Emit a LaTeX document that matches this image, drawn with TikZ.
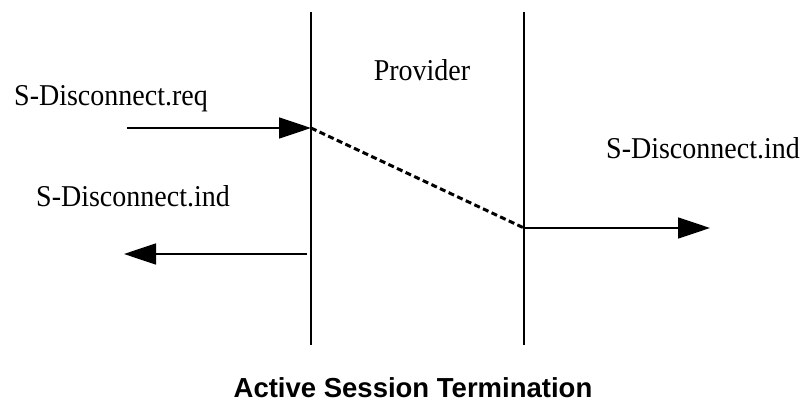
\documentclass[tikz,border=0pt]{standalone}
\usepackage{fontspec}
\setmainfont{Liberation Serif}
\setsansfont{Liberation Sans}
\usetikzlibrary{arrows.meta}
\newcommand{\tallt}[1]{\scalebox{1}[1.08]{#1}}
\begin{document}
\begin{tikzpicture}[x=1pt,y=-1pt,
  lbl/.style={font=\fontsize{28}{30}\selectfont, inner sep=0pt},
  msg/.style={line width=1.8pt, -{Triangle[length=32pt,width=21pt]}},
  life/.style={line width=1.3pt}]
\useasboundingbox[fill=white] (0,0) rectangle (807,406);
\coordinate (t1) at (311,12);
\coordinate (b1) at (311,345);
\coordinate (t2) at (524,12);
\coordinate (b2) at (524,345);
\draw[life] (t1) -- (b1);
\draw[life] (t2) -- (b2);
\coordinate (reqs) at (127,128);
\coordinate (reqe) at (311,128);
\coordinate (inde) at (524,228);
\coordinate (rend) at (710,228);
\coordinate (lstart) at (307,254);
\coordinate (lend) at (124,254);
\draw[msg] (reqs) -- (reqe);
\draw[line width=3pt, dash pattern=on 6pt off 3.5pt] (reqe) -- (inde);
\draw[msg] (inde) -- (rend);
\draw[msg] (lstart) -- (lend);
\node[lbl] (req) at (111,99) {\tallt{S-Disconnect.req}};
\node[lbl] (prov) at (422,70) {\tallt{Provider}};
\node[lbl] (indr) at (703,148) {\tallt{S-Disconnect.ind}};
\node[lbl] (indl) at (133,196) {\tallt{S-Disconnect.ind}};
\node[inner sep=0pt, font=\sffamily\bfseries\fontsize{27.5}{30}\selectfont] (title) at (413,388) {Active Session Termination};
\end{tikzpicture}
\end{document}
